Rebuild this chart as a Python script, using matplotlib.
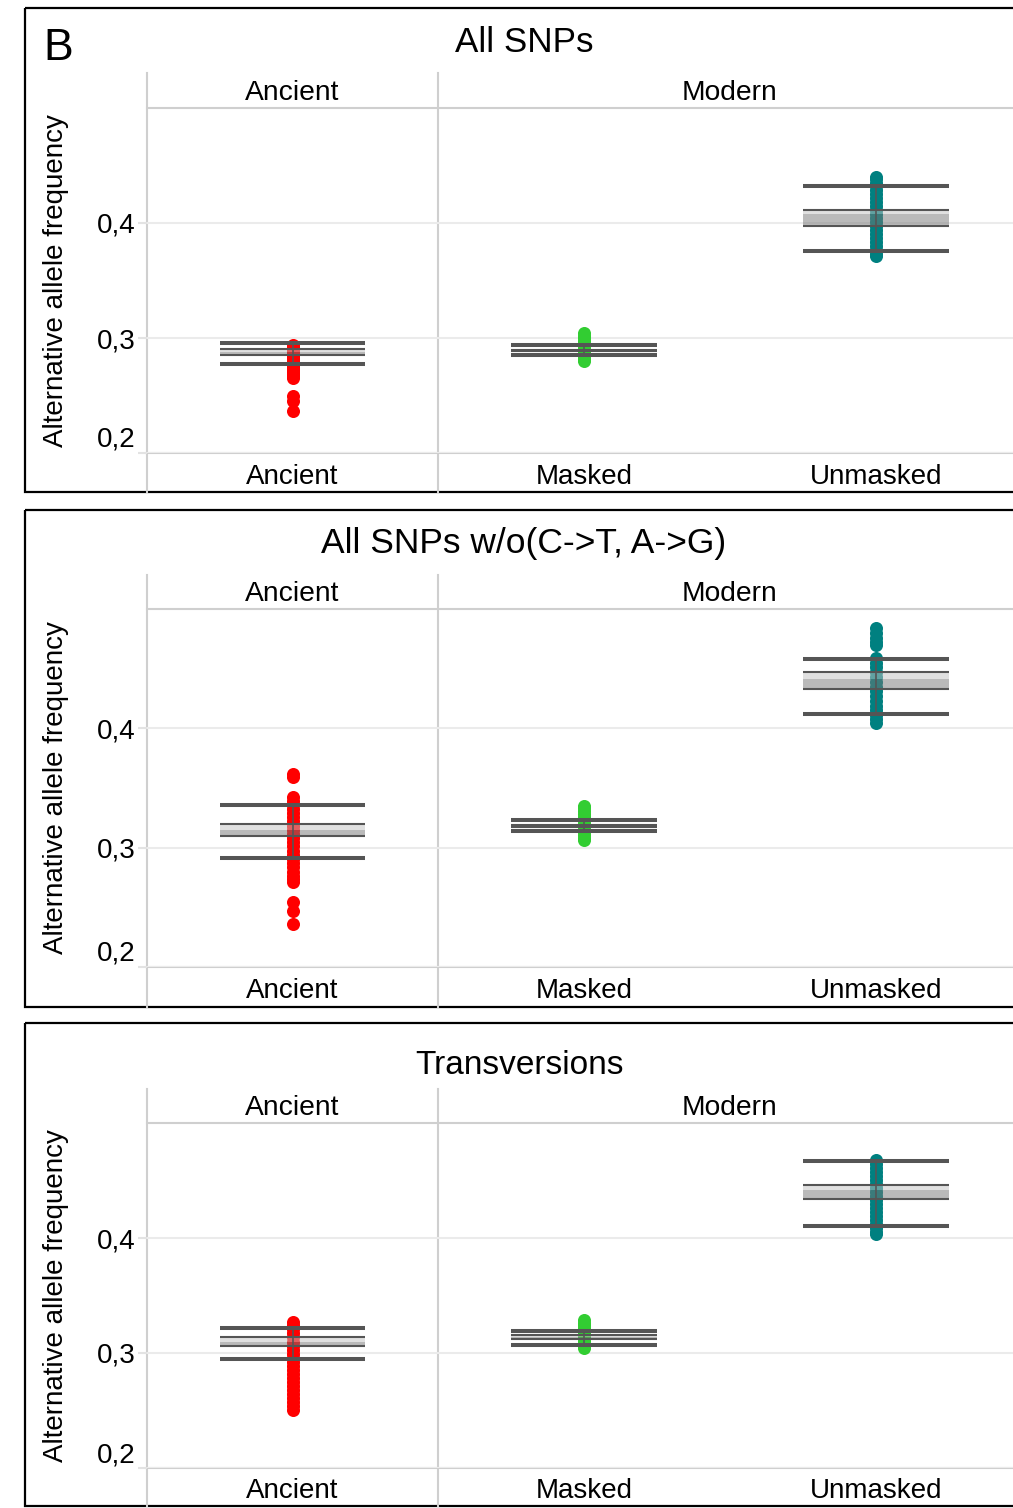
import matplotlib
matplotlib.use("Agg")
import matplotlib.pyplot as plt
from matplotlib.patches import Rectangle
from matplotlib.transforms import blended_transform_factory, ScaledTranslation

plt.rcParams['font.family'] = ['Liberation Sans', 'DejaVu Sans']

# ---- data -------------------------------------------------------------
groups = ['Ancient', 'Masked', 'Unmasked']
facets = ['Ancient', 'Modern']
colors = ['#FF0000', '#32CD32', '#008080']
titles = ['All SNPs', 'All SNPs w/o(C->T, A->G)', 'Transversions']
ytick_vals = [0.2, 0.3, 0.4]
ytick_text = ['0,2', '0,3', '0,4']

# per-sample alternative allele frequency, all SNPs
all_anc = [0.2936, 0.2918, 0.2905, 0.2890, 0.2878, 0.2865, 0.2850, 0.2838,
           0.2822, 0.2808, 0.2790, 0.2772, 0.2755, 0.2738, 0.2720, 0.2702,
           0.2685, 0.2668, 0.2650, 0.2493, 0.2449, 0.2363]
all_masked = [0.3041, 0.3020, 0.2998, 0.2975, 0.2952, 0.2930, 0.2912,
              0.2895, 0.2878, 0.2860, 0.2842, 0.2820, 0.2798]
all_unmasked = [0.4397, 0.4380, 0.4350, 0.4320, 0.4290, 0.4255, 0.4220,
                0.4185, 0.4150, 0.4115, 0.4080, 0.4045, 0.4010, 0.3975,
                0.3940, 0.3905, 0.3870, 0.3835, 0.3800, 0.3765, 0.3730, 0.3710]

# without C->T and A->G
noct_anc = [0.3614, 0.3590, 0.3424, 0.3395, 0.3360, 0.3325, 0.3290, 0.3255,
            0.3220, 0.3185, 0.3150, 0.3115, 0.3080, 0.3045, 0.3010, 0.2975,
            0.2940, 0.2905, 0.2870, 0.2835, 0.2800, 0.2765, 0.2735, 0.2712,
            0.2544, 0.2469, 0.2357]
noct_masked = [0.3353, 0.3330, 0.3305, 0.3280, 0.3255, 0.3230, 0.3205,
               0.3180, 0.3155, 0.3130, 0.3105, 0.3085, 0.3068]
noct_unmasked = [0.4838, 0.4800, 0.4760, 0.4720, 0.4696, 0.4587, 0.4550,
                 0.4510, 0.4470, 0.4430, 0.4390, 0.4350, 0.4310, 0.4270,
                 0.4230, 0.4190, 0.4150, 0.4110, 0.4075, 0.4042]

# transversions only
tv_anc = [0.3270, 0.3240, 0.3205, 0.3170, 0.3135, 0.3100, 0.3065, 0.3030,
          0.2995, 0.2960, 0.2925, 0.2890, 0.2855, 0.2820, 0.2785, 0.2750,
          0.2715, 0.2680, 0.2645, 0.2610, 0.2575, 0.2540, 0.2502]
tv_masked = [0.3284, 0.3262, 0.3240, 0.3218, 0.3195, 0.3172, 0.3150,
             0.3128, 0.3105, 0.3082, 0.3060, 0.3041]
tv_unmasked = [0.4676, 0.4645, 0.4610, 0.4575, 0.4540, 0.4505, 0.4470,
               0.4435, 0.4400, 0.4365, 0.4330, 0.4295, 0.4260, 0.4225,
               0.4190, 0.4155, 0.4120, 0.4085, 0.4055, 0.4032]

points = [[all_anc, all_masked, all_unmasked],
          [noct_anc, noct_masked, noct_unmasked],
          [tv_anc, tv_masked, tv_unmasked]]

# summary bars: outer = sd range, inner = band around the mean
sd_hi = [[0.2957, 0.2937, 0.4322], [0.3357, 0.3228, 0.4581], [0.3217, 0.3191, 0.4667]]
sd_lo = [[0.2774, 0.2852, 0.3757], [0.2912, 0.3136, 0.4120], [0.2948, 0.3070, 0.4102]]
ci_hi = [[0.2904, 0.2898, 0.4117], [0.3198, 0.3188, 0.4469], [0.3139, 0.3160, 0.4458]]
ci_lo = [[0.2852, 0.2888, 0.3974], [0.3097, 0.3176, 0.4330], [0.3061, 0.3122, 0.4337]]
ci_mid = [[0.2876, 0.2893, 0.4076], [0.3145, 0.3182, 0.4413], [0.3096, 0.3141, 0.4414]]

# ---- layout (pixels from top-left) -----------------------------------
W, H = 1013, 1508
box_top = [8, 510, 1023]
box_bot = [492, 1007, 1506]
title_x = [524, 524, 519]
title_y = [42, 544, 1066]
title_size = [25.2, 25.5, 24.0]
strip_top = [73, 575, 1089]
strip_bot = [108, 609, 1123]
plot_bot = [453, 967, 1468]
x_left, x_mid, x_right = 147, 438, 1022

fig = plt.figure(figsize=(W / 100, H / 100), dpi=100)
bg = fig.add_axes([0, 0, 1, 1], zorder=0)
bg.set_xlim(0, W)
bg.set_ylim(H, 0)
bg.axis('off')


def px_axes(left, top, right, bottom):
    return fig.add_axes([left / W, 1 - bottom / H, (right - left) / W, (bottom - top) / H], zorder=1)


line_grey = '#555555'
sep_grey = '#cfcfcf'

for p in range(3):
    # panel frame and title
    bg.add_patch(Rectangle((25, box_top[p]), W + 40, box_bot[p] - box_top[p],
                           fill=False, ec='black', lw=1.6))
    bg.text(title_x[p], title_y[p], titles[p], ha='center', va='center',
            fontsize=title_size[p])
    bg.text(56, (strip_bot[p] + plot_bot[p]) / 2, 'Alternative allele frequency',
            rotation=90, ha='center', va='center', fontsize=20)

    # facet separators and strip lines
    for xv in (x_left, x_mid):
        bg.plot([xv, xv], [strip_top[p], box_bot[p]], color=sep_grey, lw=1.5)
    for yv in (strip_bot[p], plot_bot[p]):
        bg.plot([x_left, W + 20], [yv, yv], color=sep_grey, lw=1.5)

    ax_a = px_axes(x_left, strip_bot[p], x_mid, plot_bot[p])
    ax_m = px_axes(x_mid, strip_bot[p], x_right, plot_bot[p])
    ax_a.set_xlim(0.5, 1.5)
    ax_m.set_xlim(0.5, 2.5)
    for ax, name in ((ax_a, facets[0]), (ax_m, facets[1])):
        ax.set_ylim(0.2, 0.5)
        ax.patch.set_alpha(0)
        for s in ax.spines.values():
            s.set_visible(False)
        ax.set_yticks(ytick_vals)
        ax.set_xticks([])
        ax.grid(axis='y', color='#ebebeb', lw=1.5)
        ax.set_axisbelow(True)
        tr = blended_transform_factory(ax.transAxes, bg.transData)
        bg.text(0.5, (strip_top[p] + strip_bot[p]) / 2 + 2, name, transform=tr,
                ha='center', va='center', fontsize=20.3)

    ax_a.set_yticklabels(ytick_text, fontsize=20)
    ax_a.tick_params(axis='y', length=6.5, width=1.5, color='#e3e3e3', pad=1.5)
    low = ax_a.get_yticklabels()[0]
    low.set_transform(low.get_transform() + ScaledTranslation(0, 0.16, fig.dpi_scale_trans))
    ax_m.tick_params(axis='y', length=0, labelleft=False)

    for g in range(3):
        ax = ax_a if g == 0 else ax_m
        x = 1 if g == 0 else g
        vals = points[p][g]
        ax.scatter([x] * len(vals), vals, s=88, color=colors[g], lw=0,
                   zorder=2, clip_on=False)
        # shaded band around the mean
        ax.add_patch(Rectangle((x - 0.25, ci_lo[p][g]), 0.5, ci_mid[p][g] - ci_lo[p][g],
                               fc='#777777', alpha=0.5, lw=0, zorder=3))
        ax.add_patch(Rectangle((x - 0.25, ci_mid[p][g]), 0.5, ci_hi[p][g] - ci_mid[p][g],
                               fc='#c2c2c2', alpha=0.5, lw=0, zorder=3))
        ax.hlines([sd_lo[p][g], sd_hi[p][g]], x - 0.25, x + 0.25, color=line_grey,
                  lw=2.9, zorder=4)
        ax.hlines([ci_lo[p][g], ci_hi[p][g]], x - 0.25, x + 0.25, color=line_grey,
                  lw=1.5, zorder=4)
        ax.vlines(x, sd_lo[p][g], sd_hi[p][g], color=line_grey, lw=1.2, zorder=4)

        tr = blended_transform_factory(ax.transData, bg.transData)
        bg.text(x, (plot_bot[p] + box_bot[p]) / 2 + 4, groups[g], transform=tr,
                ha='center', va='center', fontsize=20)

bg.text(58, 49, 'B', ha='center', va='center', fontsize=32)

fig.savefig('out.png', dpi=100)
